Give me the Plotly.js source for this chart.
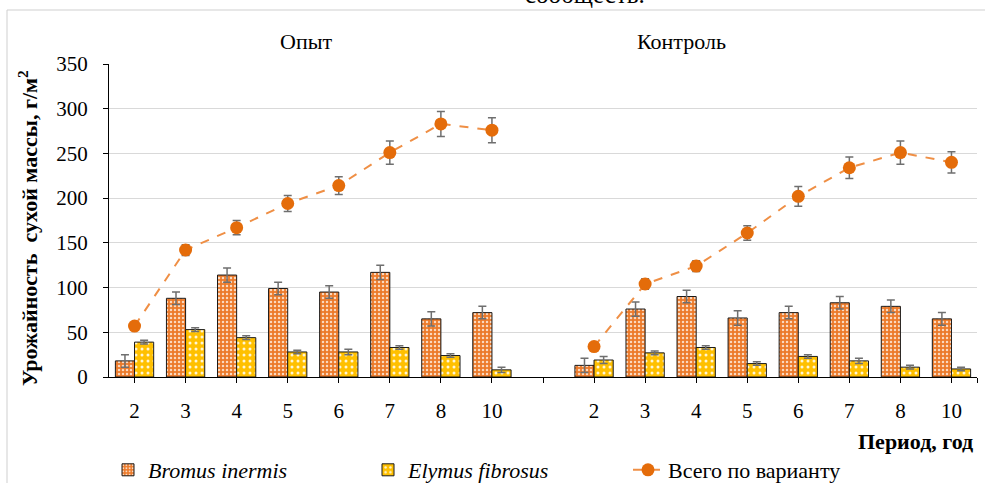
<!DOCTYPE html>
<html>
<head>
<meta charset="utf-8">
<script src="https://cdn.plot.ly/plotly-3.0.1.min.js"></script>
<style>
html,body{margin:0;padding:0;background:#fff;}
#chart{width:985px;height:483px;}
</style>
</head>
<body>
<div id="chart"></div>
<script>
// ---- data ----
const periods = ['2', '3', '4', '5', '6', '7', '8', '10'];
const groupNames = ['Опыт', 'Контроль'];

const bromusOpyt      = [18, 88, 114, 99, 95, 117, 65, 72];
const bromusOpytErr   = [7, 7, 8, 7, 7, 8, 8, 7];
const elymusOpyt      = [39, 53, 44, 28, 28, 33, 24, 8];
const elymusOpytErr   = [2, 2, 2, 2, 3, 2, 2, 3];
const totalOpyt       = [57, 142, 167, 194, 214, 251, 283, 276];
const totalOpytErr    = [4, 6, 8, 9, 10, 13, 14, 14];

const bromusKontrol    = [13, 76, 90, 66, 72, 83, 79, 65];
const bromusKontrolErr = [8, 8, 7, 8, 7, 7, 7, 7];
const elymusKontrol    = [19, 27, 33, 15, 23, 18, 11, 9];
const elymusKontrolErr = [4, 2, 2, 2, 2, 3, 2, 2];
const totalKontrol     = [34, 104, 124, 161, 202, 234, 251, 240];
const totalKontrolErr  = [4, 6, 6, 8, 11, 12, 13, 12];

const seriesNames = ['<i>Bromus inermis</i>', '<i>Elymus fibrosus</i>', 'Всего по варианту'];
const yTicks = [0, 50, 100, 150, 200, 250, 300, 350];

// ---- positions: group 1, empty slot, group 2 ----
const n = periods.length;
const xPos = [];
for (let i = 0; i < 2 * n + 1; i++) xPos.push(i);
const join = (a, b) => a.concat([null], b);
const labelVals = xPos.filter(i => i !== n);
const labelText = periods.concat(periods);

const serif = 'Times New Roman';
const errStyle = (arr) => ({type: 'data', array: arr, visible: true, color: '#6f6f6f', thickness: 1.5, width: 4});

const traces = [
  {
    type: 'bar', name: seriesNames[0], x: xPos,
    y: join(bromusOpyt, bromusKontrol),
    error_y: errStyle(join(bromusOpytErr, bromusKontrolErr)),
    marker: {color: '#EC7A2A', line: {color: '#1a1a1a', width: 1},
             pattern: {shape: '.', fillmode: 'replace', bgcolor: '#EC7A2A', fgcolor: '#fbd9bf', size: 4, solidity: 0.3}},
    hoverinfo: 'y'
  },
  {
    type: 'bar', name: seriesNames[1], x: xPos,
    y: join(elymusOpyt, elymusKontrol),
    error_y: errStyle(join(elymusOpytErr, elymusKontrolErr)),
    marker: {color: '#FFC000', line: {color: '#1a1a1a', width: 1},
             pattern: {shape: '.', fillmode: 'replace', bgcolor: '#FFC000', fgcolor: '#fff6d6', size: 6, solidity: 0.2}},
    hoverinfo: 'y'
  },
  {
    type: 'scatter', mode: 'lines+markers', name: seriesNames[2], x: xPos,
    y: join(totalOpyt, totalKontrol),
    error_y: errStyle(join(totalOpytErr, totalKontrolErr)),
    connectgaps: false,
    line: {color: '#EF8F45', width: 2, dash: 'dash'},
    marker: {color: '#E46C0A', size: 13, symbol: 'circle'},
    hoverinfo: 'y'
  }
];

const L = 109, R = 8, T = 64, B = 106, W = 985, H = 483;
const pw = W - L - R, ph = H - T - B;
const px = (x) => (x - L) / pw;
const py = (y) => (H - B - y) / ph;

const layout = {
  width: W, height: H,
  margin: {l: L, r: R, t: T, b: B, pad: 0, autoexpand: false},
  paper_bgcolor: '#ffffff', plot_bgcolor: '#ffffff',
  font: {family: serif, size: 21, color: '#000'},
  barmode: 'group', bargap: 0.25, bargroupgap: 0,
  showlegend: true,
  xaxis: {
    range: [-0.5, 2 * n + 0.5], tickmode: 'array', tickvals: labelVals, ticktext: labelText,
    showgrid: false, zeroline: false, showline: true, linecolor: '#000', linewidth: 1,
    ticks: 'outside', ticklen: 5, tickcolor: '#000', tickwidth: 1,
    minor: {tickmode: 'array', tickvals: [n, 2 * n + 0.5], ticks: 'outside', ticklen: 5, tickcolor: '#000', tickwidth: 1, showgrid: false},
    tickfont: {family: serif, size: 21, color: '#000'}, ticklabelstandoff: 10,
    fixedrange: true, automargin: false
  },
  yaxis: {
    range: [0, 350], tickmode: 'array', tickvals: yTicks,
    showgrid: true, gridcolor: '#d9d9d9', gridwidth: 1,
    zeroline: false, showline: true, linecolor: '#000', linewidth: 1,
    ticks: 'outside', ticklen: 5, tickcolor: '#000', tickwidth: 1,
    tickfont: {family: serif, size: 21, color: '#000'}, ticklabelstandoff: 11,
    fixedrange: true, automargin: false
  },
  legend: {
    orientation: 'h', x: px(108), xanchor: 'left', y: py(470), yanchor: 'middle',
    font: {family: serif, size: 22, color: '#000'}, entrywidth: 215,
    bgcolor: 'rgba(0,0,0,0)', traceorder: 'normal'
  },
  annotations: [
    {xref: 'paper', yref: 'paper', x: px(306), y: py(42), text: groupNames[0], showarrow: false,
     xanchor: 'center', yanchor: 'middle', font: {family: serif, size: 22, color: '#000'}},
    {xref: 'paper', yref: 'paper', x: px(681), y: py(42), text: groupNames[1], showarrow: false,
     xanchor: 'center', yanchor: 'middle', font: {family: serif, size: 22, color: '#000'}},
    {xref: 'paper', yref: 'paper', x: px(28), y: py(228), text: '<b>Урожайность  сухой массы, г/м<sup>2</sup></b>',
     textangle: -90, showarrow: false, xanchor: 'center', yanchor: 'middle',
     font: {family: serif, size: 22, color: '#000'}},
    {xref: 'paper', yref: 'paper', x: px(975), y: py(441), text: '<b>Период, год</b>', showarrow: false,
     xanchor: 'right', yanchor: 'middle', font: {family: serif, size: 22, color: '#000'}},
    {xref: 'paper', yref: 'paper', x: px(585), y: py(-5), text: 'сообществ.', showarrow: false,
     xanchor: 'center', yanchor: 'middle', font: {family: serif, size: 25, color: '#000'}}
  ],
  shapes: [
    {type: 'line', xref: 'paper', yref: 'paper', x0: px(7), x1: px(985), y0: py(10), y1: py(10),
     line: {color: '#cfcfcf', width: 1}},
    {type: 'line', xref: 'paper', yref: 'paper', x0: px(7), x1: px(7), y0: py(10), y1: py(483),
     line: {color: '#cfcfcf', width: 1}}
  ]
};

Plotly.newPlot('chart', traces, layout, {displayModeBar: false, staticPlot: true});
</script>
</body>
</html>
